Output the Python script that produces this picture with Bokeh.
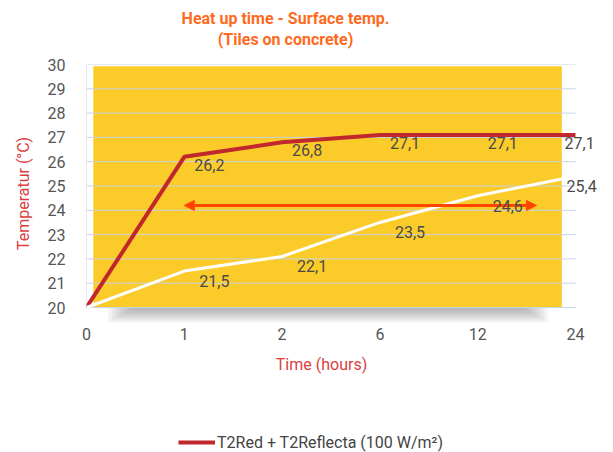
from bokeh.plotting import figure
from bokeh.layouts import column
from bokeh.models import (Range1d, FixedTicker, Legend, LegendItem, Arrow,
                          NormalHead, ColumnDataSource, LabelSet, Label)
from bokeh.core.properties import value
from bokeh.embed import file_html
from bokeh.resources import INLINE

# ---- data ----
time_labels = ["0", "1", "2", "6", "12", "24"]
red_series = [20, 26.2, 26.8, 27.1, 27.1, 27.1]
white_series = [20, 21.5, 22.1, 23.5, 24.6, 25.4]
y_ticks = list(range(20, 31))
arrow_y = 24.2
arrow_x_start = 1
arrow_x_end = 4.6
title_main = "Heat up time - Surface temp."
title_sub = "(Tiles on concrete)"
x_title = "Time (hours)"
y_title = "Temperatur (°C)"
legend_label = "T2Red + T2Reflecta (100 W/m²)"

idx = list(range(len(time_labels)))
last = idx[-1]
FONT = "Roboto"
GRID = "#C9D3E3"
YELLOW = "#FBCB29"
RED = "#C0282D"
ORANGE = "#FF6A21"
AXIS_RED = "#D9403F"
W = 613
LEFT = 86
STEP = 97.8  # px per category slot
xr = Range1d(0, (W - LEFT) / STEP)

# ---- title strip ----
p0 = figure(width=W, height=50, output_backend="svg", toolbar_location=None,
            title=None, x_range=xr, y_range=Range1d(0, 50),
            x_axis_location=None, y_axis_location=None,
            min_border=0, min_border_left=LEFT, min_border_right=0,
            outline_line_color=None,
            background_fill_color="white", border_fill_color="white")
p0.grid.visible = False
title_x = 2.035
for txt, ty in ((title_main, 32.5), (title_sub, 11)):
    p0.add_layout(Label(x=title_x, y=ty, text=txt, text_align="center",
                        text_baseline="middle", text_font=FONT,
                        text_font_size="16px", text_font_style="bold",
                        text_color=ORANGE))

# ---- main chart ----
p = figure(width=W, height=298, output_backend="svg", toolbar_location=None,
           title=None, x_range=xr, y_range=Range1d(20 - 15 / 24.3, 30),
           min_border_left=LEFT, min_border_right=0, min_border_top=14,
           min_border_bottom=26, outline_line_color=None,
           background_fill_color="white", border_fill_color="white")

p.xgrid.visible = False
p.ygrid.visible = False
p.yaxis.ticker = FixedTicker(ticks=y_ticks)
p.xaxis.ticker = FixedTicker(ticks=idx)
p.xaxis.major_label_overrides = {i: t for i, t in enumerate(time_labels)}
for ax in (p.xaxis[0], p.yaxis[0]):
    ax.axis_line_color = None
    ax.major_tick_line_color = None
    ax.minor_tick_line_color = None
    ax.major_tick_out = 0
    ax.major_tick_in = 0
    ax.minor_tick_out = 0
    ax.minor_tick_in = 0
    ax.major_label_text_font = FONT
    ax.major_label_text_font_size = "16px"
    ax.major_label_text_color = "#555555"
    ax.axis_label_text_font = FONT
    ax.axis_label_text_font_size = "16px"
    ax.axis_label_text_font_style = "normal"
    ax.axis_label_text_color = AXIS_RED
p.yaxis.axis_label = y_title
p.yaxis.major_label_standoff = 21
p.yaxis.axis_label_standoff = 12
p.xaxis.major_label_standoff = 5

# background card + shadow
for k in range(8):
    h = 0.62 * (1 - k / 8)
    p.quad(left=[0.22 + 0.035 * k], right=[4.72 - 0.035 * k], top=[20],
           bottom=[20 - h], fill_color="#555555", fill_alpha=0.065,
           line_color=None, level="image")
p.quad(left=[0.07], right=[4.86], bottom=[20], top=[29.93], fill_color=YELLOW,
       line_color=None, level="image")

# grid lines (limited to the category span)
p.segment(x0=[0] * len(y_ticks), y0=y_ticks, x1=[last] * len(y_ticks), y1=y_ticks,
          line_color=GRID, line_width=1, level="underlay")
p.segment(x0=[0], y0=[20], x1=[0], y1=[30], line_color=GRID, line_width=1,
          level="underlay")

# lines
p.line(idx, red_series, line_color=RED, line_width=4)
p.line(idx, white_series, line_color="white", line_width=3)

# arrow
p.add_layout(Arrow(start=NormalHead(size=10, fill_color="#FF4500", line_color="#FF4500"),
                   end=NormalHead(size=10, fill_color="#FF4500", line_color="#FF4500"),
                   x_start=arrow_x_start, y_start=arrow_y, x_end=arrow_x_end,
                   y_end=arrow_y, line_color="#FF4500", line_width=3))

# data labels
def fmt(v):
    return f"{v:.1f}".replace(".", ",")

n = len(idx)
red_src = ColumnDataSource(dict(x=idx[1:], y=red_series[1:],
                                t=[fmt(v) for v in red_series[1:]],
                                dx=[10] * (n - 2) + [-11]))
white_src = ColumnDataSource(dict(x=idx[1:], y=white_series[1:],
                                  t=[fmt(v) for v in white_series[1:]],
                                  dx=[15] * (n - 2) + [-9]))
for src, dy in ((red_src, -2), (white_src, -4)):
    p.add_layout(LabelSet(source=src, x="x", y="y", text="t", x_offset="dx",
                          y_offset=dy, text_baseline="top", text_align="left",
                          text_font=value(FONT), text_font_size="16px",
                          text_color="#4A4A4A"))

# ---- x-axis title + legend strip ----
p2 = figure(width=W, height=104, output_backend="svg", toolbar_location=None,
            title=None, x_range=xr, y_range=Range1d(0, 104),
            x_axis_location=None, y_axis_location=None,
            min_border=0, min_border_left=LEFT, min_border_right=0,
            outline_line_color=None,
            background_fill_color="white", border_fill_color="white")
p2.grid.visible = False
p2.add_layout(Label(x=2.403, y=88, text=x_title, text_align="center",
                    text_baseline="middle", text_font=FONT,
                    text_font_size="16px", text_color=AXIS_RED))
r_leg = p2.line(x=[-20, -10], y=[-20, -10], line_color=RED, line_width=4)
legend = Legend(items=[LegendItem(label=legend_label, renderers=[r_leg])],
                location=(92, 0), orientation="horizontal",
                border_line_color=None, background_fill_alpha=0,
                label_text_font=FONT, label_text_font_size="16px",
                label_text_color="#444444", glyph_width=37, glyph_height=20,
                label_standoff=2, padding=0, margin=0)
p2.add_layout(legend)

open("out.html", "w").write(file_html(column(p0, p, p2), INLINE))
